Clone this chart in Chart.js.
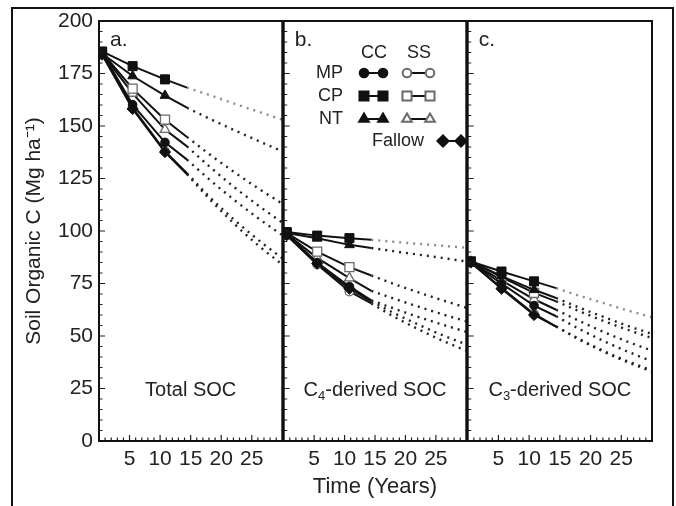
<!DOCTYPE html>
<html>
<head>
<meta charset="utf-8">
<script src="https://cdn.jsdelivr.net/npm/chart.js@4.4.1/dist/chart.umd.min.js"></script>
<style>
body{margin:0;background:#fff;width:676px;height:506px;overflow:hidden;position:relative;}
#frame{position:absolute;left:11px;top:7px;width:659px;height:520px;border:2px solid #111;}
canvas{position:absolute;top:0;}
</style>
</head>
<body>
<div id="frame"></div>
<canvas id="ca" width="290" height="506" style="left:0px"></canvas>
<canvas id="cb" width="198" height="506" style="left:276px"></canvas>
<canvas id="cc" width="216" height="506" style="left:460px"></canvas>
<script>
// years of the sampled points (last solid point = end of fitted line)
const solidYears = [0.5, 5.5, 10.8, 14.4];
const dotYears = [14.4, 18, 22, 26, 30];
const seriesNames = ['MP CC','CP CC','NT CC','MP SS','CP SS','NT SS','Fallow'];
const xTicks = [5, 10, 15, 20, 25];
const yTicks = [0, 25, 50, 75, 100, 125, 150, 175, 200];

// a. Total SOC
const totalSolid = [
  [185, 160.2, 142.2, 134],
  [185.5, 178.5, 172.2, 168.3],
  [184.5, 173.8, 164.5, 158.7],
  [184, 158.8, 138, 127.5],
  [185, 167.8, 153, 144.8],
  [184.5, 165.5, 148.3, 140.3],
  [184, 158.1, 137.6, 127]
];
const totalDotted = [
  [134, 124.7, 115.1, 106.2, 98],
  [168.3, 164.8, 160.8, 156.9, 153],
  [158.7, 153.6, 148.2, 143, 138],
  [127.5, 116.5, 105.7, 95.9, 87],
  [144.8, 136.7, 128.3, 120.4, 113],
  [140.3, 130.9, 121.2, 112.3, 104],
  [127, 115.5, 103.8, 93.3, 84]
];
// b. C4-derived SOC
const c4Solid = [
  [98.5, 85, 73.6, 67],
  [99.5, 97.8, 96.6, 95.8],
  [99, 96.5, 93.4, 91.9],
  [98, 84, 71.2, 65.5],
  [99, 90.2, 82.8, 78.8],
  [98.5, 87.2, 77.6, 71.5],
  [98, 84.5, 72.5, 66.5]
];
const c4Dotted = [
  [67, 63.2, 59.2, 55.5, 52],
  [95.8, 94.9, 93.9, 93, 92],
  [91.9, 90.4, 88.8, 87.2, 85.5],
  [65.5, 59.4, 53.4, 47.9, 43],
  [78.8, 74.9, 70.9, 67.1, 63.5],
  [71.5, 67.9, 64.1, 60.4, 57],
  [66.5, 61.1, 55.6, 50.5, 46]
];
// c. C3-derived SOC
const c3Solid = [
  [85, 75, 64.5, 59.4],
  [85.5, 80.7, 76, 72.8],
  [85.5, 78.5, 72, 68.1],
  [85, 73, 60.5, 54.5],
  [85.5, 78, 70.5, 66.5],
  [85, 76.5, 67.5, 62.5],
  [85, 72.5, 60, 54.5]
];
const c3Dotted = [
  [59.4, 53.6, 47.8, 42.6, 38],
  [72.8, 69.3, 65.8, 62.2, 59],
  [68.1, 63.7, 59.2, 54.9, 51],
  [54.5, 48.6, 42.7, 37.6, 33],
  [66.5, 62, 57.3, 53, 49],
  [62.5, 57.4, 52.1, 47.3, 43],
  [54.5, 48.8, 43, 38, 33.5]
];

const FONT = "'Liberation Sans', Arial, sans-serif";
const shapes = {MP:['circle',4.3], CP:['rect',6.4], NT:['triangle',5.6], Fallow:['rectRot',5.6]};

function markerStyle(name){
  const key = name.split(' ')[0];
  const open = name.endsWith('SS');
  return {
    pointStyle: shapes[key][0], pointRadius: shapes[key][1],
    fill: open ? '#fff' : '#111', stroke: open ? '#6a6a6a' : '#111', open
  };
}

function buildSets(solid, dotted){
  const sets = [];
  seriesNames.forEach((name, i)=>{
    const m = markerStyle(name);
    sets.push({
      data: dotYears.map((x, j)=>({x, y: dotted[i][j]})),
      borderColor: name==='CP CC' ? '#8c8c8c' : '#222',
      borderWidth: 2.4, borderDash: [2, 5],
      pointRadius: 0, cubicInterpolationMode: 'monotone', order: 5
    });
    sets.push({
      data: solidYears.map((x, j)=>({x, y: solid[i][j]})),
      borderColor: '#111', borderWidth: 2,
      pointStyle: m.pointStyle,
      pointRadius: [m.pointRadius, m.pointRadius, m.pointRadius, 0],
      pointBackgroundColor: m.fill, pointBorderColor: m.stroke,
      pointBorderWidth: m.open ? 1.3 : 1,
      order: m.open ? 3 : 1
    });
  });
  return sets;
}

// frame + inward tick marks
const framePlugin = {
  id: 'frame',
  afterDraw(chart){
    const {ctx, chartArea: a, scales: {x, y}} = chart;
    ctx.save();
    ctx.strokeStyle = '#222';
    ctx.lineWidth = 1.2;
    ctx.beginPath();
    for(let v = 0; v <= 200; v += 5){
      const py = y.getPixelForValue(v);
      const len = v % 25 === 0 ? 6 : 3.5;
      ctx.moveTo(a.left, py); ctx.lineTo(a.left + len, py);
    }
    for(let v = 1; v < 30; v++){
      const px = x.getPixelForValue(v);
      const len = v % 5 === 0 ? 6 : 3.5;
      ctx.moveTo(px, a.bottom); ctx.lineTo(px, a.bottom - len);
    }
    ctx.stroke();
    ctx.lineWidth = 2;
    ctx.strokeStyle = '#111';
    ctx.strokeRect(a.left, a.top, a.right - a.left, a.bottom - a.top);
    ctx.restore();
  }
};

function subText(ctx, parts, cx, cy, size){
  // parts: [text, isSub]
  ctx.font = size + 'px ' + FONT;
  const subF = Math.round(size*0.65) + 'px ' + FONT;
  let w = 0;
  parts.forEach(p=>{ ctx.font = p[1] ? subF : size + 'px ' + FONT; w += ctx.measureText(p[0]).width; });
  let px = cx - w/2;
  ctx.textAlign = 'left';
  ctx.textBaseline = 'middle';
  parts.forEach(p=>{
    ctx.font = p[1] ? subF : size + 'px ' + FONT;
    ctx.fillText(p[0], px, p[1] ? cy + 6 : cy);
    px += ctx.measureText(p[0]).width;
  });
}

function labelPlugin(letter, parts){
  return {
    id: 'labels' + letter,
    afterDraw(chart){
      const {ctx, chartArea: a} = chart;
      ctx.save();
      ctx.fillStyle = '#222';
      ctx.font = '21px ' + FONT;
      ctx.textAlign = 'left';
      ctx.textBaseline = 'middle';
      ctx.fillText(letter, a.left + 11, 40);
      subText(ctx, parts, (a.left + a.right)/2, 390, 20);
      ctx.restore();
    }
  };
}

function drawMarker(ctx, name, x, y){
  const m = markerStyle(name);
  ctx.fillStyle = m.fill;
  ctx.strokeStyle = m.stroke;
  Chart.helpers.drawPoint(ctx, {pointStyle: m.pointStyle, radius: m.pointRadius, rotation: 0, borderWidth: m.open ? 1.3 : 1}, x, y);
}

const legendPlugin = {
  id: 'legendBox',
  afterDraw(chart){
    const ctx = chart.ctx;
    const ox = -276; // page x -> canvas x
    ctx.save();
    ctx.fillStyle = '#222';
    ctx.font = '18px ' + FONT;
    ctx.textBaseline = 'middle';
    ctx.textAlign = 'center';
    ctx.fillText('CC', 374 + ox, 53);
    ctx.fillText('SS', 419 + ox, 53);
    const rows = [['MP', 73], ['CP', 96], ['NT', 119]];
    rows.forEach(([r, yy])=>{
      ctx.fillStyle = '#222';
      ctx.textAlign = 'right';
      ctx.fillText(r, 343 + ox, yy);
      [['CC', 364, 383], ['SS', 407, 430]].forEach(([s, x1, x2])=>{
        ctx.strokeStyle = '#111'; ctx.lineWidth = 2;
        ctx.beginPath(); ctx.moveTo(x1 + ox, yy); ctx.lineTo(x2 + ox, yy); ctx.stroke();
        drawMarker(ctx, r + ' ' + s, x1 + ox, yy);
        drawMarker(ctx, r + ' ' + s, x2 + ox, yy);
      });
    });
    ctx.fillStyle = '#222';
    ctx.textAlign = 'left';
    ctx.fillText('Fallow', 372 + ox, 141);
    ctx.strokeStyle = '#111'; ctx.lineWidth = 2;
    ctx.beginPath(); ctx.moveTo(443 + ox, 141); ctx.lineTo(461 + ox, 141); ctx.stroke();
    drawMarker(ctx, 'Fallow', 443 + ox, 141);
    drawMarker(ctx, 'Fallow', 461 + ox, 141);
    ctx.restore();
  }
};

function makeChart(id, solid, dotted, opts){
  const xScale = {
    type: 'linear', min: 0, max: 30,
    grid: {display: false, drawTicks: false},
    border: {display: false},
    afterBuildTicks: s => { s.ticks = xTicks.map(v=>({value: v})); },
    afterFit: s => { s.height = 65; },
    ticks: {color: '#222', font: {family: FONT, size: 21}, padding: 6, maxRotation: 0, autoSkip: false},
    title: opts.xTitle ? {display: true, text: 'Time (Years)', color: '#222', font: {family: FONT, size: 22}, padding: {top: 0, bottom: 6}} : {display: false}
  };
  const yScale = {
    type: 'linear', min: 0, max: 200,
    display: opts.showY,
    grid: {display: false, drawTicks: false},
    border: {display: false},
    afterBuildTicks: s => { s.ticks = yTicks.map(v=>({value: v})); },
    afterFit: s => { s.width = opts.showY ? 99 : 0; },
    ticks: {color: '#222', font: {family: FONT, size: 21}, padding: 6},
    title: {display: opts.showY, text: 'Soil Organic C (Mg ha\u207B\u00B9)', color: '#222', font: {family: FONT, size: 21}, padding: {top: 22, bottom: 0}}
  };
  return new Chart(document.getElementById(id).getContext('2d'), {
    type: 'line',
    data: {datasets: buildSets(solid, dotted)},
    options: {
      responsive: false, animation: false, events: [],
      layout: {padding: opts.pad},
      plugins: {legend: {display: false}, tooltip: {enabled: false}},
      scales: {x: xScale, y: yScale}
    },
    plugins: [framePlugin, labelPlugin(opts.letter, opts.parts)].concat(opts.extra || [])
  });
}

makeChart('ca', totalSolid, totalDotted, {showY: true, letter: 'a.', parts: [['Total SOC', false]],
  pad: {left: 0, right: 7, top: 21, bottom: 0}});
makeChart('cb', c4Solid, c4Dotted, {showY: false, xTitle: true, letter: 'b.', parts: [['C', false], ['4', true], ['-derived SOC', false]],
  pad: {left: 7, right: 7, top: 21, bottom: 0}, extra: [legendPlugin]});
makeChart('cc', c3Solid, c3Dotted, {showY: false, letter: 'c.', parts: [['C', false], ['3', true], ['-derived SOC', false]],
  pad: {left: 7, right: 24, top: 21, bottom: 0}});
</script>
</body>
</html>
